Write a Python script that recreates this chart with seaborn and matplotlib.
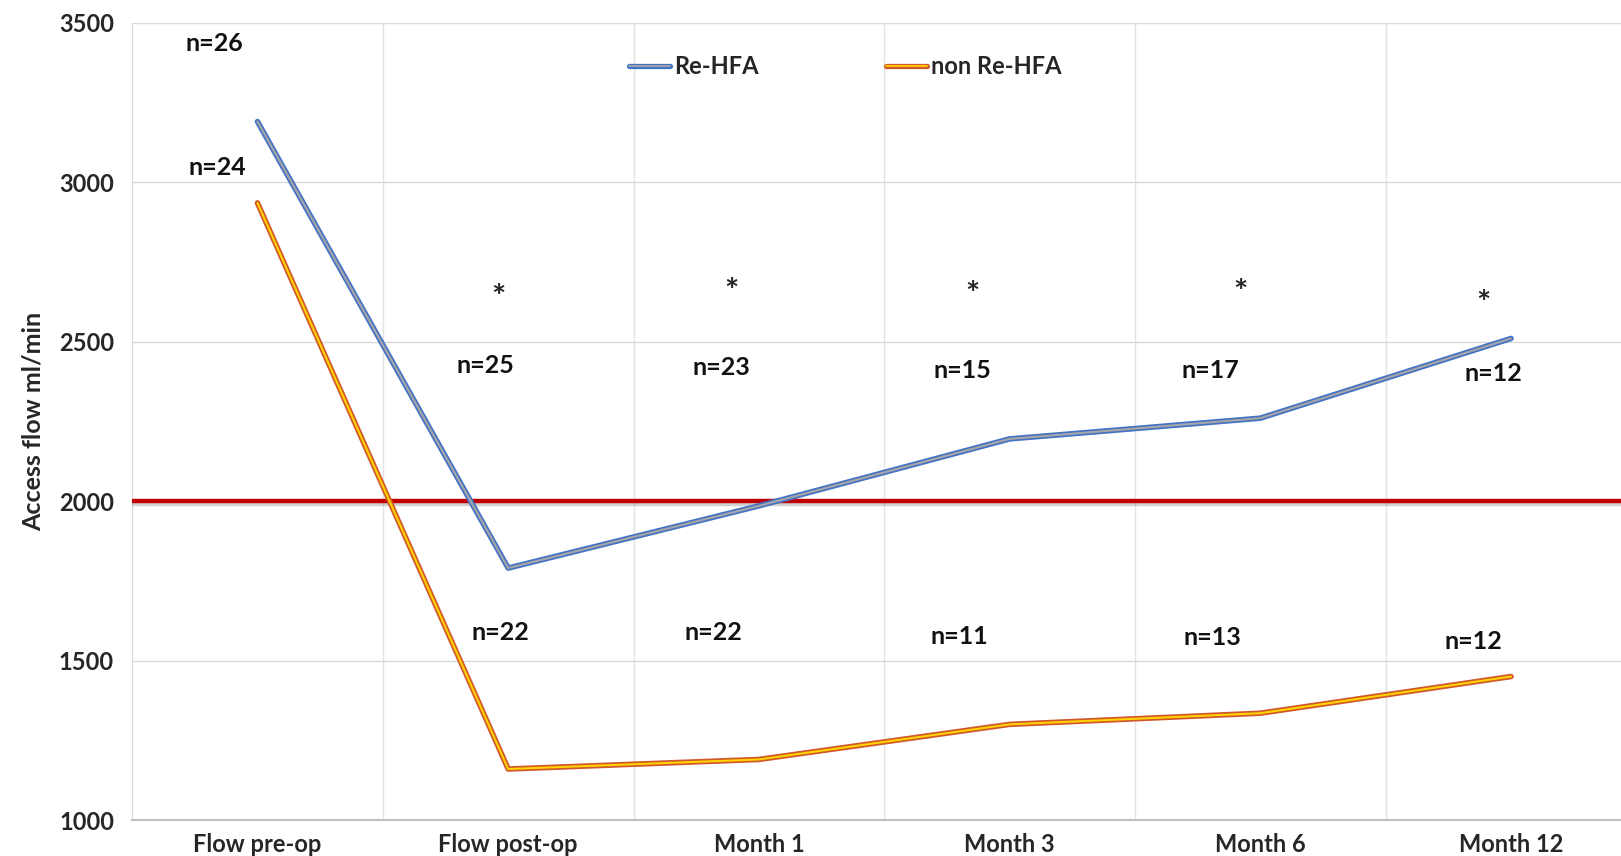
import pandas as pd
import matplotlib.pyplot as plt
import matplotlib.patheffects as pe
from matplotlib.lines import Line2D
import seaborn as sns

# --- Data ---
timepoints = ['Flow pre-op', 'Flow post-op', 'Month 1', 'Month 3', 'Month 6', 'Month 12']
flow_rehfa = [3190, 1790, 1985, 2195, 2260, 2510]
flow_non_rehfa = [2935, 1160, 1190, 1300, 1335, 1450]
n_rehfa = [26, 25, 23, 15, 17, 12]
n_non_rehfa = [24, 22, 22, 11, 13, 12]
significant = [False, True, True, True, True, True]
threshold = 2000

# label placement (x offset from category, y in ml/min)
rehfa_label_pos = [(-0.17, 3435), (-0.09, 2425), (-0.15, 2420), (-0.19, 2410), (-0.20, 2410), (-0.07, 2400)]
non_label_pos = [(-0.16, 3045), (-0.03, 1587), (-0.18, 1587), (-0.20, 1574), (-0.19, 1571), (-0.15, 1561)]
star_pos = [None, (-0.04, 2635), (-0.11, 2655), (-0.15, 2645), (-0.08, 2650), (-0.11, 2615)]

sns.set_style('white')
plt.rcParams['font.family'] = ['Lato', 'DejaVu Sans']

df = pd.DataFrame({
    'Timepoint': timepoints * 2,
    'Flow': flow_rehfa + flow_non_rehfa,
    'Group': ['Re-HFA'] * len(timepoints) + ['non Re-HFA'] * len(timepoints),
})

styles = {
    'Re-HFA': ('#4472c4', '#a6a6a6'),
    'non Re-HFA': ('#d0582a', '#ffd200'),
}

fig = plt.figure(figsize=(16.21, 8.56), dpi=100)
ax = fig.add_axes([0.0815, 0.042, 0.928, 0.9315])

for group, (outer, inner) in styles.items():
    sub = df[df['Group'] == group]
    sns.lineplot(data=sub, x='Timepoint', y='Flow', sort=False, color=inner,
                 linewidth=1.5, ax=ax, zorder=4,
                 path_effects=[pe.Stroke(linewidth=4.0, foreground=outer), pe.Normal()])

ax.axhline(threshold, color='#c00000', linewidth=3.2, zorder=3,
           path_effects=[pe.SimpleLineShadow(offset=(0, -2), shadow_color='grey', alpha=0.35), pe.Normal()])

ax.set_xlim(-0.5, len(timepoints) - 0.5)
ax.set_ylim(1000, 3500)
ax.set_yticks(range(1000, 3501, 500))
ax.set_xticks(range(len(timepoints)))
ax.set_xticklabels(timepoints)
ax.set_xticks([i + 0.5 for i in range(len(timepoints) - 1)], minor=True)

ax.grid(axis='y', color='#d9d9d9', linewidth=1)
ax.grid(axis='x', which='minor', color='#e3e3e3', linewidth=1)
ax.grid(axis='x', which='major', visible=False)
ax.set_axisbelow(True)
ax.tick_params(axis='both', which='both', length=0)
ax.tick_params(axis='y', pad=13, labelsize=17)
ax.tick_params(axis='x', pad=9, labelsize=17)
for lbl in ax.get_xticklabels() + ax.get_yticklabels():
    lbl.set_fontweight('bold')

for side in ['top', 'right']:
    ax.spines[side].set_visible(False)
ax.spines['left'].set_color('#d9d9d9')
ax.spines['bottom'].set_color('#bfbfbf')
ax.spines['bottom'].set_linewidth(1.5)

ax.set_xlabel('')
ax.set_ylabel('Access flow ml/min', fontsize=18, fontweight='bold', labelpad=10)

txt = dict(fontsize=18, fontweight='bold', ha='center', va='center', color='#111111')
for i in range(len(timepoints)):
    dx, y = rehfa_label_pos[i]
    ax.text(i + dx, y, f'n={n_rehfa[i]}', **txt)
    dx, y = non_label_pos[i]
    ax.text(i + dx, y, f'n={n_non_rehfa[i]}', **txt)
    if significant[i]:
        dx, y = star_pos[i]
        ax.text(i + dx, y, '*', fontsize=24, fontweight='bold', ha='center', va='center')

handles = [
    Line2D([], [], color=inner, linewidth=1.3,
           path_effects=[pe.Stroke(linewidth=3.8, foreground=outer), pe.Normal()])
    for outer, inner in styles.values()
]
ax.legend(handles, list(styles.keys()), loc='center', bbox_to_anchor=(0.474, 0.945),
          ncol=2, frameon=False, handlelength=1.75, handletextpad=0.15,
          columnspacing=5.4, prop={'size': 17, 'weight': 'bold'})

fig.savefig('out.png', dpi=100)
